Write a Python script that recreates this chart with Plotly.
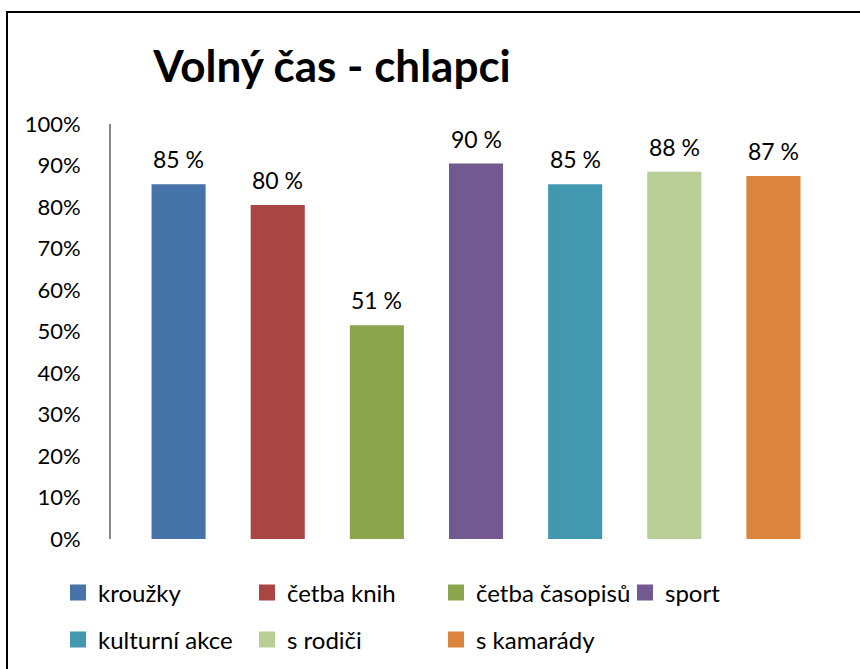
import plotly.graph_objects as go

# data
kategorie = ['kroužky', 'četba knih', 'četba časopisů', 'sport',
             'kulturní akce', 's rodiči', 's kamarády']
hodnoty = [85, 80, 51, 90, 85, 88, 87]
barvy = ['#4673A8', '#A94542', '#8AA54C', '#72598F',
         '#4198AF', '#B9CE96', '#DB843D']
y_ticks = list(range(0, 101, 10))
y_tick_text = [f'{v}%' for v in y_ticks]

FONT = 'Lato, Calibri, sans-serif'

fig = go.Figure()

for i, (kat, val, col) in enumerate(zip(kategorie, hodnoty, barvy)):
    leg = 'legend' if i == 0 else f'legend{i + 1}'
    fig.add_trace(go.Bar(x=[kat], y=[val],
                         name=kat,
                         width=0.505,
                         marker={'color': col, 'line': {'color': col, 'width': 4}},
                         legend=leg, showlegend=True,
                         hovertemplate='%{x}: %{y} %<extra></extra>'))
    # popisky nad sloupci
    fig.add_annotation(x=kat, y=val, text=f'{val} %',
                       showarrow=False, yanchor='bottom', yshift=11,
                       font={'size': 23, 'color': '#000000', 'family': FONT})

# legenda - kazda polozka zvlast (2 radky, 4 sloupce)
legendy = {}
for i in range(len(kategorie)):
    radek, sloupec = divmod(i, 4)
    leg = 'legend' if i == 0 else f'legend{i + 1}'
    legendy[leg] = {'orientation': 'h', 'xref': 'container', 'yref': 'container',
                    'x': (58 + 189 * sloupec) / 860, 'xanchor': 'left',
                    'y': 1 - (593 + 47 * radek) / 669, 'yanchor': 'middle',
                    'font': {'size': 24, 'family': FONT, 'color': '#000000'},
                    'bgcolor': 'rgba(0,0,0,0)'}

fig.update_layout(
    width=860, height=669,
    barmode='overlay',
    showlegend=True,
    plot_bgcolor='white', paper_bgcolor='white',
    font={'family': FONT, 'color': '#000000'},
    margin={'l': 110, 'r': 37, 't': 124, 'b': 130, 'autoexpand': False},
    title={'text': '<b>Volný čas - chlapci</b>',
           'x': 332 / 860, 'xanchor': 'center', 'xref': 'container',
           'y': 1 - 67 / 669, 'yanchor': 'middle', 'yref': 'container',
           'font': {'size': 44, 'family': FONT, 'color': '#000000'}},
    **legendy,
)

fig.update_xaxes(domain=[19 / 713, 1], showticklabels=False, showline=False,
                 showgrid=False, zeroline=False, ticks='',
                 categoryorder='array', categoryarray=kategorie)
fig.update_yaxes(range=[0, 100], tickmode='array', tickvals=y_ticks, ticktext=y_tick_text,
                 anchor='free', position=0,
                 showline=True, linecolor='#868686', linewidth=2,
                 showgrid=False, zeroline=False,
                 ticks='outside', ticklen=24, tickcolor='rgba(0,0,0,0)',
                 tickfont={'size': 22, 'family': FONT, 'color': '#000000'})

# ramecek grafu
fig.add_shape(type='rect', xref='paper', yref='paper',
              x0=(7 - 110) / 713, x1=1.2, y0=-0.5, y1=1 + (124 - 12) / 415,
              line={'color': '#000000', 'width': 2}, fillcolor='rgba(0,0,0,0)',
              layer='below')

fig.write_html('out.html', config={'displayModeBar': False},
               post_script="document.body.style.margin='0';")
